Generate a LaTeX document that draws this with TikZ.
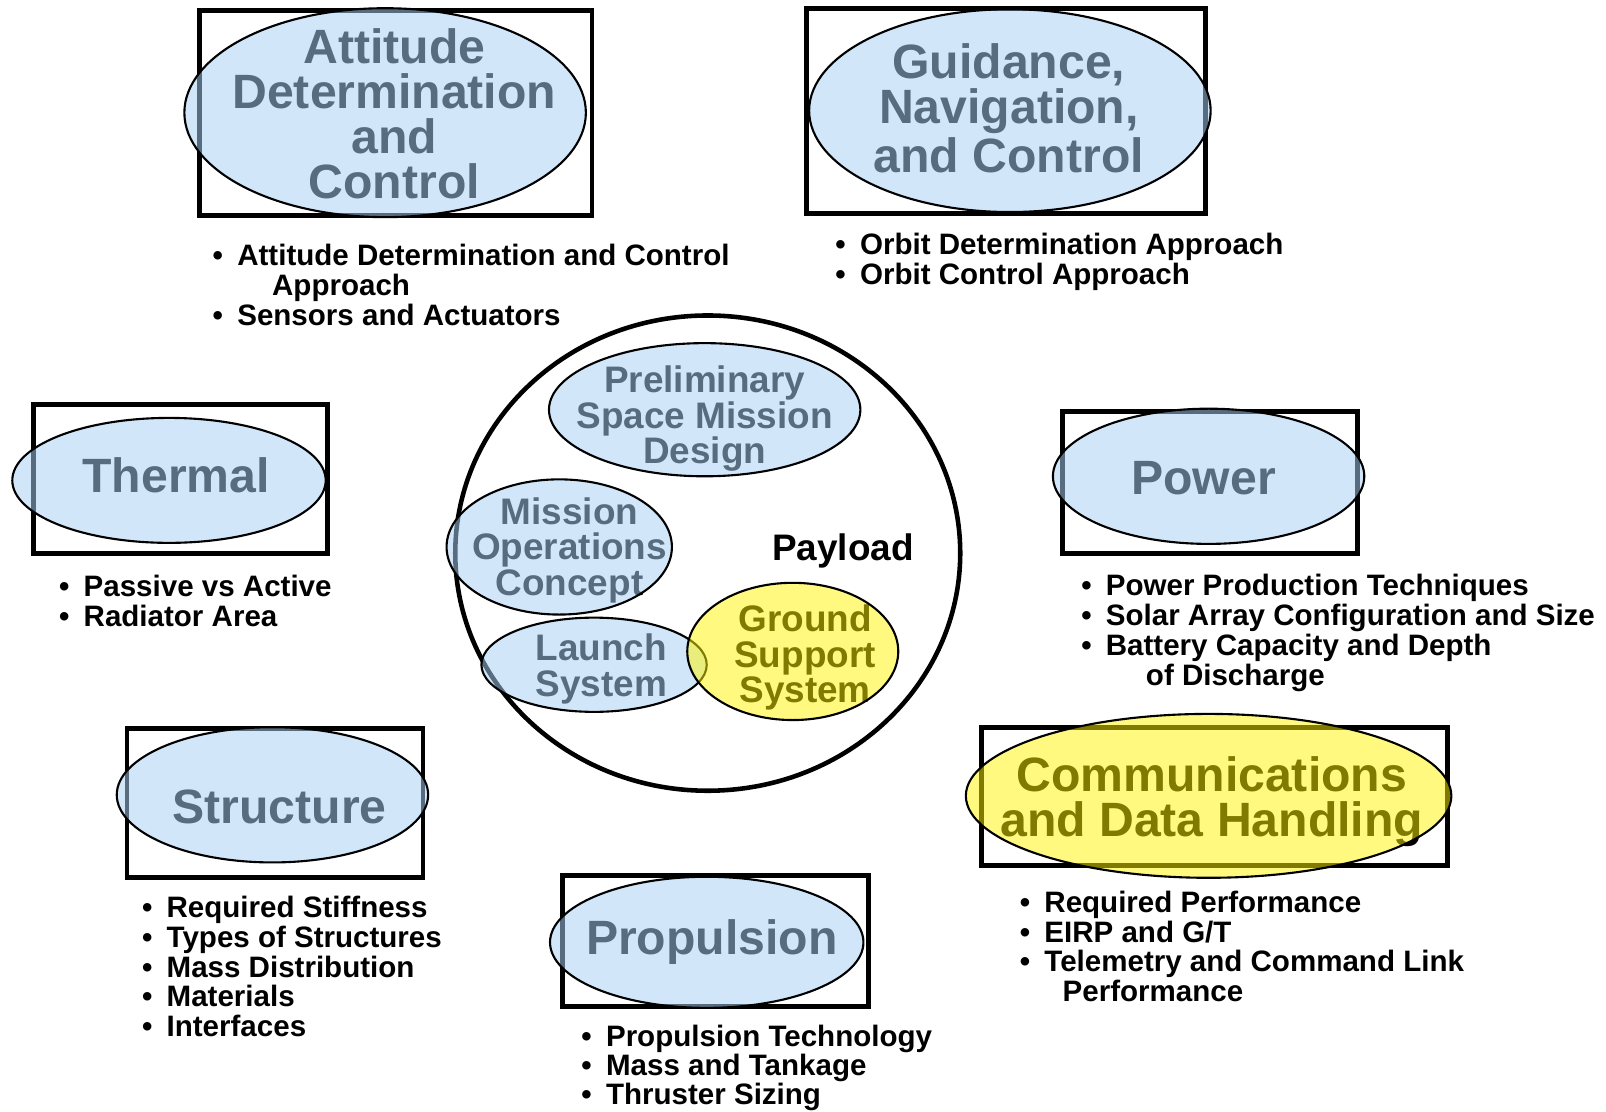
\documentclass[tikz,border=0pt]{standalone}
\usepackage{fontspec}
\setmainfont{Liberation Sans}
\usetikzlibrary{shapes.geometric}
\definecolor{ovalblue}{RGB}{169,208,246}
\definecolor{ovalyellow}{RGB}{255,245,0}
\newdimen\px \px=0.01024cm
\newcommand\itm{\makebox[7pt][l]{\textbullet}}
\begin{document}
\begin{tikzpicture}[x=0.01024cm,y=-0.01024cm,
  box/.style={line width=1.4pt},
  oval/.style={ellipse,draw,line width=0.6pt,inner sep=0pt,fill=ovalblue,fill opacity=0.52},
  yoval/.style={oval,fill=ovalyellow,fill opacity=0.5},
  title/.style={align=center,inner sep=0pt,font=\fontsize{13.7}{12.8}\selectfont\bfseries},
  inner/.style={align=center,inner sep=0pt,font=\fontsize{10.5}{10.1}\selectfont\bfseries},
  notes/.style={align=left,anchor=north west,inner sep=0pt,font=\fontsize{8.4}{8.5}\selectfont\bfseries}]
 \useasboundingbox (0,0) rectangle (1568,1085);
 \draw[box] (195,10) rectangle (578,210);
 \draw[box] (787,8) rectangle (1177,208);
 \draw[box] (33,395) rectangle (320,540);
 \draw[box] (1037,402) rectangle (1325,540);
 \draw[box] (124,711) rectangle (413,857);
 \draw[box] (549,855) rectangle (848,983);
 \draw[box] (958,710) rectangle (1413,845);
 \node[title] (adcText) at (385,111) {Attitude\\Determination\\and\\Control};
 \node[title] (gncText) at (985,106) {Guidance,\\Navigation,\\and Control};
 \node[title] (thermalText) at (172,464) {Thermal};
 \node[title] (powerText) at (1175,467) {Power};
 \node[title] (structText) at (273,788) {Structure};
 \node[title] (propText) at (695,920) {Propulsion};
 \node[title] (commText) at (1183,783) {Communications\\and Data Handling};
 \node[notes] (adcNotes) at (207,238) {\itm Attitude Determination and Control\\\hspace*{16.9pt}Approach\\\itm Sensors and Actuators};
 \node[notes] (gncNotes) at (815,227) {\itm Orbit Determination Approach\\\itm Orbit Control Approach};
 \node[notes] (thermalNotes) at (57,561) {\itm Passive vs Active\\\itm Radiator Area};
 \node[notes] (powerNotes) at (1055,560) {\itm Power Production Techniques\\\itm Solar Array Configuration and Size\\\itm Battery Capacity and Depth\\\hspace*{18.4pt}of Discharge};
 \node[notes] (structNotes) at (138,874) {\itm Required Stiffness\\\itm Types of Structures\\\itm Mass Distribution\\\itm Materials\\\itm Interfaces};
 \node[notes,font=\fontsize{8.4}{8.2}\selectfont\bfseries] (propNotes) at (567,1000) {\itm Propulsion Technology\\\itm Mass and Tankage\\\itm Thruster Sizing};
 \node[notes] (commNotes) at (995,869) {\itm Required Performance\\\itm EIRP and G/T\\\itm Telemetry and Command Link\\\hspace*{12.2pt}Performance};
 \node[ellipse,draw,line width=1.3pt,minimum width=493\px,minimum height=464\px] (payloadRing) at (691,540) {};
 \node[inner] (payloadText) at (823,538) {Payload};
 \node[inner] (prelimText) at (688,409) {Preliminary\\Space Mission\\Design};
 \node[inner] (opsText) at (556,537) {Mission\\Operations\\Concept};
 \node[inner] (launchText) at (587,653) {Launch\\System};
 \node[inner] (groundText) at (786,642) {Ground\\Support\\System};
 \node[oval,minimum width=392\px,minimum height=204\px] (adcOval) at (376,110) {};
 \node[oval,minimum width=392\px,minimum height=198\px] (gncOval) at (986,108) {};
 \node[oval,minimum width=306\px,minimum height=122\px] (thermalOval) at (165,469) {};
 \node[oval,minimum width=304\px,minimum height=132\px] (powerOval) at (1180,465) {};
 \node[oval,minimum width=304\px,minimum height=132\px] (structOval) at (266,776) {};
 \node[oval,minimum width=306\px,minimum height=128\px] (propOval) at (690,920) {};
 \node[yoval,minimum width=474\px,minimum height=160\px] (commOval) at (1180,777) {};
 \node[oval,minimum width=304\px,minimum height=130\px] (prelimOval) at (688,400) {};
 \node[oval,minimum width=220\px,minimum height=132\px] (opsOval) at (546,534) {};
 \node[oval,minimum width=220\px,minimum height=92\px] (launchOval) at (580,649) {};
 \node[yoval,minimum width=206\px,minimum height=134\px] (groundOval) at (774,636) {};
\end{tikzpicture}
\end{document}
